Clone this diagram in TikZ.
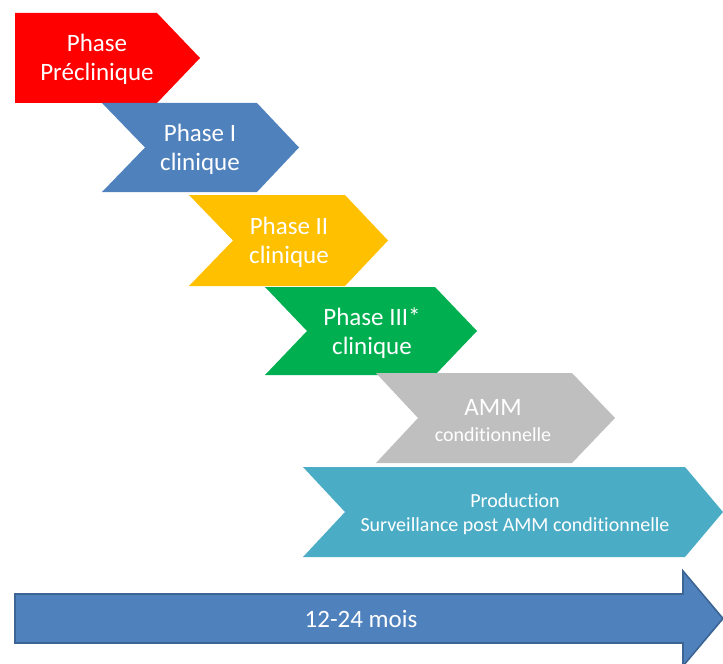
\documentclass[tikz,border=0pt]{standalone}
\usepackage{fontspec}
\setmainfont[Ligatures=CommonOff]{Carlito}
\definecolor{phred}{HTML}{FF0000}
\definecolor{phblue}{HTML}{4F81BD}
\definecolor{phyellow}{HTML}{FFC000}
\definecolor{phgreen}{HTML}{00B050}
\definecolor{phgray}{HTML}{BFBFBF}
\definecolor{phteal}{HTML}{4BACC6}
\definecolor{phborder}{HTML}{3C6494}

\begin{document}
\begin{tikzpicture}[x=0.75pt, y=-0.75pt]
\tikzstyle{phasetext}=[text=white, align=center, inner sep=0pt, font=\fontsize{18.75}{21.75}\selectfont]
\tikzstyle{smalltext}=[text=white, align=center, inner sep=0pt, font=\fontsize{15}{18}\selectfont]
\tikzstyle{timearrow}=[fill=phblue, draw=phborder, line width=1.2pt, line join=miter]
\useasboundingbox (0,0) rectangle (723,663);

\fill[phred] (15,13) -- (157,13) -- (200,58) -- (157,103) -- (15,103) -- cycle;
\node[phasetext] (G0x0) at (97,59) {Phase\\Préclinique};

\fill[phblue] (102,103) -- (257,103) -- (299,147.5) -- (257,192) -- (102,192) -- (145,147.5) -- cycle;
\node[phasetext] (G1x0) at (200,149) {Phase I\\clinique};

\fill[phyellow] (189,195) -- (345,195) -- (388,240.5) -- (345,286) -- (189,286) -- (233,240.5) -- cycle;
\node[phasetext] (G2x0) at (289,242) {Phase II\\clinique};

\fill[phgreen] (265,287) -- (435,287) -- (477,331) -- (435,375) -- (265,375) -- (307,331) -- cycle;
\node[phasetext] (G3x0) at (372,333) {Phase III*\\clinique};

\fill[phgray] (376,373) -- (572,373) -- (615,418) -- (572,463) -- (376,463) -- (418,418) -- cycle;
\node[phasetext, anchor=base] (G4x0) at (493,415) {AMM};
\node[smalltext, anchor=base] (G4x1) at (493,441) {conditionnelle};

\fill[phteal] (303,467) -- (685,467) -- (723,512) -- (685,557) -- (303,557) -- (345,512) -- cycle;
\node[smalltext] (G5x0) at (515,514) {Production\\Surveillance post AMM conditionnelle};

\draw[timearrow] (15,594) -- (683,594) -- (683,571) -- (723,618.5) -- (683,666) -- (683,643) -- (15,643) -- cycle;
\node[phasetext] (G6x0) at (361,619) {12-24 mois};
\end{tikzpicture}
\end{document}
